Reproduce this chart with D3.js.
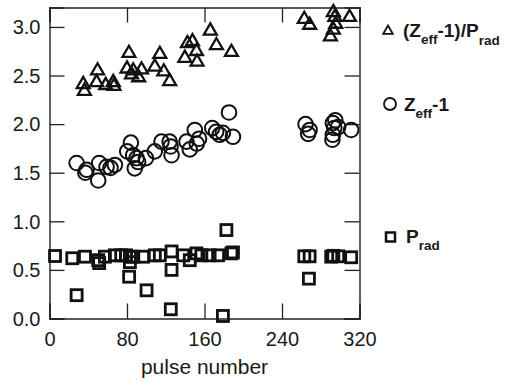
<!DOCTYPE html>
<html><head><meta charset="utf-8">
<script src="https://cdn.jsdelivr.net/npm/d3@7"></script>
<style>body{margin:0;background:#fff}svg{display:block}text{font-family:"Liberation Sans",Arial,sans-serif;fill:#1a1a1a}</style>
</head><body>
<script>
// [pulse number, value]
const ratioData = [[34.8,2.42],[36,2.35],[49.6,2.56],[48.6,2.44],[58,2.41],[65.8,2.44],[66.5,2.40],[82,2.74],[80,2.58],[86.4,2.56],[84.7,2.52],[92,2.49],[95,2.57],[108.7,2.60],[113.9,2.73],[118,2.55],[124,2.45],[142.4,2.84],[147.6,2.86],[139.7,2.69],[151.7,2.76],[152.3,2.65],[166,2.97],[172.3,2.82],[187.8,2.75],[263,3.09],[268.5,3.03],[293,3.16],[294.5,3.11],[295.5,3.04],[293,2.98],[290,2.91],[309.7,3.11]];
const zeffData = [[28,1.60],[38.3,1.53],[37,1.50],[50.3,1.42],[51.3,1.60],[58.9,1.56],[63,1.55],[67.5,1.58],[80.2,1.72],[84,1.81],[86.4,1.68],[89.9,1.65],[91.5,1.61],[88,1.545],[99.5,1.65],[108.7,1.72],[115.6,1.82],[124,1.82],[125,1.77],[126,1.68],[141.4,1.82],[144.8,1.74],[150,1.94],[154.4,1.85],[152,1.80],[168,1.96],[172,1.92],[175.7,1.89],[179,1.91],[185.3,2.12],[189.4,1.87],[264.3,2.00],[268.5,1.94],[267,1.90],[292.5,2.01],[294,1.96],[292.5,1.89],[292,1.84],[295,2.04],[298,1.97],[311.4,1.94]];
const pradData = [[5.7,0.643],[23.5,0.62],[28,0.24],[36.6,0.636],[50.3,0.60],[51.3,0.57],[57.2,0.636],[67.5,0.65],[74,0.65],[79,0.65],[83,0.636],[86.5,0.636],[96.6,0.636],[83,0.58],[82.2,0.43],[100.2,0.29],[108.7,0.65],[113.9,0.65],[126,0.69],[126,0.50],[125.2,0.095],[138,0.65],[144.8,0.60],[151.7,0.67],[156.8,0.65],[165.3,0.65],[174,0.65],[187.8,0.67],[182.6,0.91],[179,0.026],[189.4,0.68],[263,0.64],[268.5,0.64],[267.8,0.41],[290.8,0.636],[293,0.645],[298,0.64],[311.4,0.63]];
const xTicks = [0,80,160,240,320];
const yTicks = [0,0.5,1.0,1.5,2.0,2.5,3.0];

const W=511,H=386;
const svg=d3.select("body").append("svg").attr("width",W).attr("height",H);
const x=d3.scaleLinear().domain([0,320]).range([49.5,359.5]);
const y=d3.scaleLinear().domain([0,3.2]).range([318.5,7.5]);
const axc="#222";
const TL=15;

// inward ticks on all 4 sides
const gb=svg.append("g").attr("transform",`translate(0,${y(0)})`).call(d3.axisBottom(x).tickValues(xTicks).tickSize(-TL).tickPadding(13).tickFormat(d3.format("d")));
const gt=svg.append("g").attr("transform",`translate(0,${y(3.2)})`).call(d3.axisTop(x).tickValues(xTicks).tickSize(-TL).tickFormat(""));
const gl=svg.append("g").attr("transform",`translate(${x(0)},0)`).call(d3.axisLeft(y).tickValues(yTicks).tickSize(-TL).tickPadding(9).tickFormat(d3.format(".1f")));
const gr=svg.append("g").attr("transform",`translate(${x(320)},0)`).call(d3.axisRight(y).tickValues(yTicks).tickSize(-TL).tickFormat(""));
[gb,gt,gl,gr].forEach(g=>{
  g.select(".domain").attr("stroke",axc).attr("stroke-width",1.4);
  g.selectAll(".tick line").attr("stroke",axc).attr("stroke-width",1.3);
  g.selectAll(".tick text").attr("font-size",20).attr("fill","#1a1a1a").style("font-family",'"Liberation Sans",Arial,sans-serif');
});
gl.selectAll(".tick text").attr("dy","0.34em");

svg.append("text").attr("x",204.5).attr("y",374).attr("text-anchor","middle").attr("font-size",21).text("pulse number");

const mk="#111";
const tri=d3.symbol().type(d3.symbolTriangle).size(72);
svg.append("g").selectAll("path").data(ratioData).join("path")
  .attr("transform",d=>`translate(${x(d[0])},${y(d[1])+1})`).attr("d",tri)
  .attr("fill","none").attr("stroke",mk).attr("stroke-width",2.3);
svg.append("g").selectAll("circle").data(zeffData).join("circle")
  .attr("cx",d=>x(d[0])).attr("cy",d=>y(d[1])).attr("r",7.3)
  .attr("fill","none").attr("stroke",mk).attr("stroke-width",2);
svg.append("g").selectAll("rect").data(pradData).join("rect")
  .attr("x",d=>x(d[0])-5.5).attr("y",d=>y(d[1])-5.5).attr("width",11).attr("height",11)
  .attr("fill","none").attr("stroke",mk).attr("stroke-width",2.8);

// legend
const leg=svg.append("g");
leg.append("path").attr("transform","translate(388,31)").attr("d",d3.symbol().type(d3.symbolTriangle).size(40)).attr("fill","none").attr("stroke",mk).attr("stroke-width",1.8);
let t=leg.append("text").attr("x",403).attr("y",37).attr("font-size",19).attr("font-weight","bold");
t.append("tspan").text("(Z");
t.append("tspan").attr("font-size",13.5).attr("dy",7).text("eff");
t.append("tspan").attr("dy",-7).text("-1)/P");
t.append("tspan").attr("font-size",13.5).attr("dy",8).text("rad");

leg.append("circle").attr("cx",390).attr("cy",104).attr("r",6).attr("fill","none").attr("stroke",mk).attr("stroke-width",1.8);
t=leg.append("text").attr("x",404).attr("y",111).attr("font-size",19).attr("font-weight","bold");
t.append("tspan").text("Z");
t.append("tspan").attr("font-size",13.5).attr("dy",7).text("eff");
t.append("tspan").attr("dy",-7).text("-1");

leg.append("rect").attr("x",386).attr("y",232.5).attr("width",9).attr("height",9).attr("fill","none").attr("stroke",mk).attr("stroke-width",2.5);
t=leg.append("text").attr("x",406).attr("y",243).attr("font-size",19).attr("font-weight","bold");
t.append("tspan").text("P");
t.append("tspan").attr("font-size",13.5).attr("dy",7).text("rad");
</script>
</body></html>
